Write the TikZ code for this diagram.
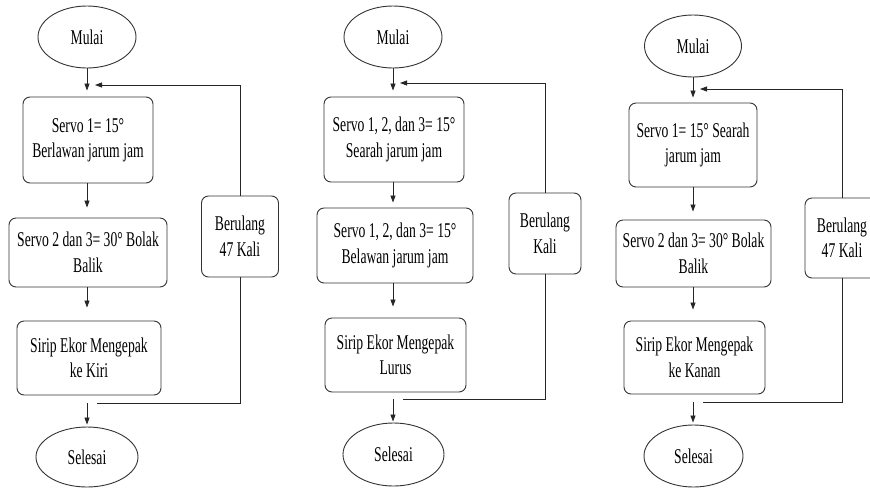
\documentclass[tikz,border=0pt]{standalone}
\usepackage{fontspec}
\setmainfont[FakeStretch=0.65]{Liberation Serif}
\usetikzlibrary{shapes.geometric,arrows.meta,calc}
\begin{document}
\begin{tikzpicture}[x=1pt,y=-1pt,
  every node/.style={font=\fontsize{21}{25.5}\selectfont, align=center, inner sep=0pt, text=black},
  box/.style={draw=black!80, line width=0.9pt, rounded corners=7pt},
  oval/.style={draw=black!80, line width=0.9pt, ellipse},
  arr/.style={draw=black!85, line width=0.8pt, -{Triangle[length=7pt,width=5pt]}},
  ln/.style={draw=black!85, line width=0.8pt}]
\useasboundingbox (0,0) rectangle (870,488);
\clip (0,0) rectangle (870,488);

% ---------- Diagram 1 ----------
\node[oval, minimum width=98pt, minimum height=62pt] (m1) at (87,37) {Mulai};
\node[box, minimum width=130pt, minimum height=86pt] (b11) at (88,140) {Servo 1= 15°\\Berlawan jarum jam};
\node[box, minimum width=158pt, minimum height=69pt] (b12) at (88,252.5) {Servo 2 dan 3= 30° Bolak\\Balik};
\node[box, minimum width=144pt, minimum height=74pt] (b13) at (89,358) {Sirip Ekor Mengepak\\ke Kiri};
\node[oval, minimum width=102pt, minimum height=60pt] (s1) at (87,457) {Selesai};
\node[box, minimum width=77pt, minimum height=81pt] (r1) at (240,236.5) {Berulang\\47 Kali};
\coordinate (l1) at (95,85);
\coordinate (e1) at (97,403);
\coordinate (t1) at (87,403);
\draw[arr, shorten >=6pt] (m1.south) -- (m1.south |- b11.north);
\draw[arr, shorten >=10pt] (m1.south |- b11.south) -- (m1.south |- b12.north);
\draw[arr, shorten >=13pt] (m1.south |- b12.south) -- (m1.south |- b13.north);
\draw[arr, shorten >=2pt] (t1) -- (s1.north);
\draw[arr] (r1.north) |- (l1);
\draw[ln] (r1.south) |- (e1);

% ---------- Diagram 2 ----------
\node[oval, minimum width=98pt, minimum height=62pt] (m2) at (393,37) {Mulai};
\node[box, minimum width=140pt, minimum height=85pt] (b21) at (394,139.5) {Servo 1, 2, dan 3= 15°\\Searah jarum jam};
\node[box, minimum width=156pt, minimum height=75pt] (b22) at (395,245.5) {Servo 1, 2, dan 3= 15°\\Belawan jarum jam};
\node[box, minimum width=141pt, minimum height=74pt] (b23) at (395.5,355) {Sirip Ekor Mengepak\\Lurus};
\node[oval, minimum width=101pt, minimum height=63pt] (s2) at (393.5,454.5) {Selesai};
\node[box, minimum width=72pt, minimum height=81pt] (r2) at (545,233.5) {Berulang\\Kali};
\coordinate (l2) at (400,83);
\coordinate (e2) at (403,399);
\coordinate (t2) at (393,399);
\draw[arr, shorten >=6pt] (m2.south) -- (m2.south |- b21.north);
\draw[arr, shorten >=5pt] (m2.south |- b21.south) -- (m2.south |- b22.north);
\draw[arr, shorten >=11pt] (m2.south |- b22.south) -- (m2.south |- b23.north);
\draw[arr, shorten >=1pt] (t2) -- (t2 |- s2.north);
\draw[arr] (r2.north) |- (l2);
\draw[ln] (r2.south) |- (e2);

% ---------- Diagram 3 ----------
\node[oval, minimum width=97pt, minimum height=62pt] (m3) at (693,46) {Mulai};
\node[box, minimum width=128pt, minimum height=84pt] (b31) at (693,145) {Servo 1= 15° Searah\\jarum jam};
\node[box, minimum width=155pt, minimum height=67pt] (b32) at (693.5,253.5) {Servo 2 dan 3= 30° Bolak\\Balik};
\node[box, minimum width=141pt, minimum height=73pt] (b33) at (694.5,357.5) {Sirip Ekor Mengepak\\ke Kanan};
\node[oval, minimum width=99pt, minimum height=62pt] (s3) at (693.5,456) {Selesai};
\node[box, minimum width=74pt, minimum height=80pt] (r3) at (842,238) {Berulang\\47 Kali};
\coordinate (l3) at (700,89);
\coordinate (e3) at (703,402);
\coordinate (t3) at (693,402);
\draw[arr, shorten >=5pt] (m3.south) -- (m3.south |- b31.north);
\draw[arr, shorten >=8pt] (m3.south |- b31.south) -- (m3.south |- b32.north);
\draw[arr, shorten >=11pt] (m3.south |- b32.south) -- (m3.south |- b33.north);
\draw[arr, shorten >=2pt] (t3) -- (t3 |- s3.north);
\draw[arr] (r3.north) |- (l3);
\draw[ln] (r3.south) |- (e3);
\end{tikzpicture}
\end{document}
